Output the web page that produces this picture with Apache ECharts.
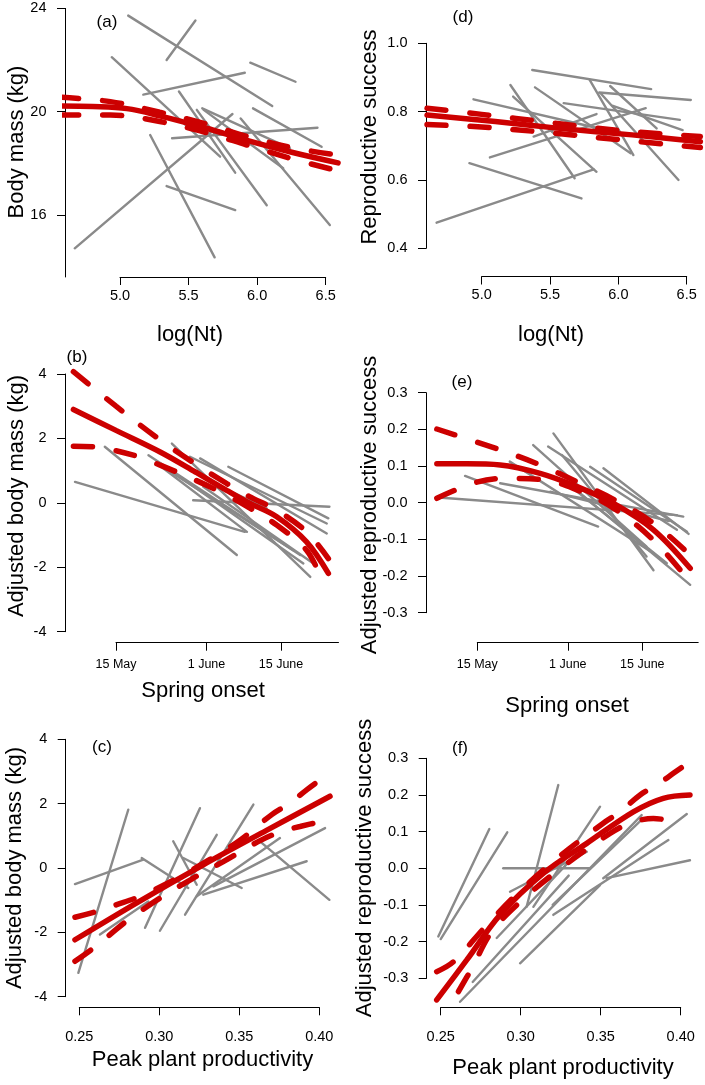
<!DOCTYPE html>
<html><head><meta charset="utf-8">
<script src="https://cdn.jsdelivr.net/npm/echarts@6/dist/echarts.min.js"></script>
<style>html,body{margin:0;padding:0;background:#fff}#c{width:705px;height:1085px}</style>
</head><body><div id="c"></div>
<script>
// ---------------- DATA ----------------
// tick values / labels
const logNtTicks = [5.0, 5.5, 6.0, 6.5];
const massTicks = [16, 20, 24];
const rsTicks = [0.4, 0.6, 0.8, 1.0];
const adjMassTicks = [-4, -2, 0, 2, 4];
const adjRsTicks = [-0.3, -0.2, -0.1, 0.0, 0.1, 0.2, 0.3];
const productivityTicks = [0.25, 0.30, 0.35, 0.40];
const onsetTicks = [135, 152, 166];          // day of year
const onsetTickLabels = ['15 May', '1 June', '15 June'];

// (a) body mass vs log(Nt): gray segments [x1,y1,x2,y2]
const grayA = [
  [5.06,23.72,6.11,20.22],[5.34,22.00,5.55,23.53],[5.95,21.90,6.28,21.16],[5.17,20.66,5.91,21.51],
  [4.94,22.11,5.73,18.26],[5.43,20.78,5.84,17.64],[5.22,19.10,5.69,14.36],[4.67,14.71,5.82,19.91],
  [5.34,17.12,5.84,16.19],[5.97,20.13,6.47,18.64],[5.88,19.74,6.53,15.61],[5.38,18.97,6.44,19.38],
  [5.60,20.13,6.24,18.58],[5.56,20.07,6.07,16.38],[5.61,20.07,6.19,17.81]
];
const fitA   = [[4.56,20.22],[4.80,20.20],[5.05,20.12],[5.29,19.84],[5.63,19.36],[5.92,18.90],[6.26,18.42],[6.59,18.02]];
const upperA = [[4.56,20.56],[4.93,20.39],[5.29,19.98],[5.63,19.52],[5.92,19.05],[6.26,18.60],[6.59,18.32]];
const lowerA = [[4.56,19.87],[4.93,19.87],[5.29,19.62],[5.63,19.19],[5.92,18.72],[6.26,18.17],[6.59,17.71]];

// (d) reproductive success vs log(Nt)
const grayD = [
  [5.37,0.922,6.24,0.866],[5.86,0.856,6.53,0.834],[5.94,0.875,6.28,0.751],[5.60,0.825,6.45,0.776],
  [5.96,0.817,6.47,0.746],[5.87,0.854,6.44,0.600],[5.79,0.893,6.11,0.673],[5.39,0.871,6.09,0.678],
  [5.21,0.878,5.68,0.605],[5.23,0.844,5.84,0.624],[4.94,0.836,5.90,0.747],[5.38,0.727,5.84,0.793],
  [5.06,0.666,6.20,0.810],[4.91,0.649,5.73,0.546],[4.67,0.475,5.82,0.631]
];
const fitD   = [[4.60,0.790],[5.10,0.771],[5.57,0.751],[6.10,0.732],[6.60,0.712]];
const upperD = [[4.60,0.810],[5.00,0.792],[5.50,0.768],[6.00,0.745],[6.60,0.727]];
const lowerD = [[4.60,0.762],[5.00,0.755],[5.50,0.738],[6.00,0.718],[6.60,0.695]];

// (b) adjusted body mass vs spring onset (day of year)
const grayB = [
  [127.3,0.65,159.2,-0.90],[132.9,1.74,157.7,-1.62],[141.1,1.48,169.6,-1.62],[145.5,1.84,171.5,-2.30],
  [143.3,1.17,168.3,-1.47],[148.9,1.43,174.6,-0.64],[150.8,1.38,174.6,-0.95],[156.1,1.12,174.9,-0.48],
  [149.5,0.08,175.1,-0.12],[147.0,0.81,170.2,-1.88],[151.4,0.50,172.1,-1.88],[142.7,1.22,159.6,-0.90],
  [152.7,0.65,163.3,-0.17]
];
const fitB   = [[127.0,2.90],[135.0,2.25],[143.3,1.58],[150.0,0.95],[155.8,0.39],[160.0,0.00],[165.2,-0.43],[170.8,-1.21],[174.9,-2.19]];
const upperB = [[127.0,4.07],[135.0,3.00],[143.3,1.95],[150.0,1.20],[155.8,0.60],[160.0,0.20],[165.2,-0.23],[170.8,-0.90],[174.9,-1.73]];
const lowerB = [[127.0,1.76],[131.8,1.72],[139.3,1.43],[143.3,1.17],[150.0,0.70],[155.8,0.24],[160.0,-0.15],[165.2,-0.69],[170.8,-1.47],[173.7,-2.40]];

// (e) adjusted reproductive success vs spring onset
const grayE = [
  [127.7,0.014,172.5,-0.034],[132.7,0.073,157.7,-0.065],[139.3,0.053,173.7,-0.038],[141.1,0.112,168.1,-0.138],
  [145.5,0.157,166.8,-0.120],[148.3,0.153,172.5,-0.074],[149.3,0.189,168.1,-0.184],[150.9,0.130,166.8,-0.147],
  [156.2,0.098,174.4,-0.079],[158.7,0.094,174.7,-0.085],[148.7,0.030,171.0,-0.050],[154.3,0.026,175.0,-0.224],
  [151.8,0.053,170.6,-0.165]
];
const fitE   = [[127.4,0.106],[133.0,0.106],[139.3,0.103],[146.8,0.080],[153.7,0.044],[160.6,-0.002],[168.1,-0.074],[175.0,-0.179]];
const upperE = [[127.4,0.201],[139.3,0.144],[146.8,0.103],[153.7,0.057],[160.6,0.009],[168.1,-0.056],[175.0,-0.143]];
const lowerE = [[127.4,0.012],[134.2,0.053],[139.3,0.066],[146.8,0.064],[153.7,0.035],[160.6,-0.015],[168.1,-0.102],[174.4,-0.206]];

// (c) adjusted body mass vs peak plant productivity
const grayC = [
  [0.2494,-3.26,0.2806,1.81],[0.2473,-0.50,0.2900,0.26],[0.2890,0.31,0.3181,-0.62],[0.2911,-1.86,0.3254,1.86],
  [0.3087,0.83,0.3234,-0.52],[0.3150,0.31,0.3515,-0.62],[0.3004,-1.95,0.3359,1.03],[0.3161,-1.45,0.3588,1.97],
  [0.3234,-0.88,0.3754,0.93],[0.3275,-0.83,0.3921,0.21],[0.3629,0.83,0.4063,-0.99],[0.3338,-0.57,0.4036,1.24],
  [0.2629,-2.07,0.2931,-1.04]
];
const fitC   = [[0.2473,-2.23],[0.2870,-1.05],[0.3275,0.10],[0.3670,1.17],[0.4067,2.23]];
const upperC = [[0.2473,-1.53],[0.2609,-1.35],[0.2734,-1.14],[0.2879,-0.88],[0.3100,-0.35],[0.3300,0.22],[0.3500,0.85],[0.3703,1.66],[0.3817,2.02],[0.3921,2.43],[0.4036,2.85]];
const lowerC = [[0.2473,-2.90],[0.2588,-2.49],[0.2692,-2.07],[0.2806,-1.61],[0.3000,-0.95],[0.3200,-0.35],[0.3400,0.20],[0.3630,0.85],[0.3765,1.14],[0.3879,1.29],[0.4036,1.47]];

// (f) adjusted reproductive success vs peak plant productivity
const grayF = [
  [0.2485,-0.186,0.2804,0.107],[0.2500,-0.193,0.2916,0.098],[0.2891,0.000,0.3433,0.000],[0.2621,-0.364,0.3756,0.145],
  [0.2996,-0.259,0.3496,-0.046],[0.3037,-0.105,0.3235,0.227],[0.3079,-0.105,0.3496,0.168],[0.2933,-0.064,0.3413,0.045],
  [0.3204,-0.127,0.3923,0.077],[0.3537,-0.027,0.4058,0.022],[0.3516,-0.027,0.4038,0.148],[0.2700,-0.310,0.3300,-0.020],
  [0.2850,-0.190,0.3350,0.040],[0.3200,-0.100,0.3750,0.130]
];
const fitF   = [[0.2475,-0.359],[0.2663,-0.250],[0.2871,-0.127],[0.3141,-0.014],[0.3413,0.068],[0.3704,0.154],[0.3891,0.191],[0.4058,0.200]];
const upperF = [[0.2475,-0.282],[0.2579,-0.255],[0.2788,-0.155],[0.3000,-0.060],[0.3250,0.035],[0.3516,0.123],[0.3621,0.154],[0.3746,0.200],[0.3850,0.227],[0.3954,0.259],[0.4058,0.291]];
const lowerF = [[0.2611,-0.336],[0.2694,-0.273],[0.2819,-0.173],[0.3000,-0.090],[0.3250,0.000],[0.3558,0.095],[0.3683,0.123],[0.3829,0.136],[0.3964,0.127]];

// ---------------- LAYOUT ----------------
const FONT = "'Liberation Sans', Arial, sans-serif";
const GRAY = '#8a8a8a', RED = '#cc0000';
const fmt1 = v => v.toFixed(1), fmt0 = v => String(Math.round(v)), fmt2 = v => v.toFixed(2);
const onsetFmt = v => onsetTickLabels[onsetTicks.indexOf(v)] || '';

const panels = [
  {tag:'(a)', gray:grayA, fit:fitA, up:upperA, lo:lowerA,
   xMap:[5.0,120.0,6.5,325.7], yMap:[20,111.7,16,215.0], xData:[4.6,6.6], yData:[13.6,24],
   xa:{y:277, min:5.0, max:6.5, ticks:logNtTicks, fmt:fmt1, margin:11, size:14.5},
   ya:{x:65, min:13.6, max:24, ticks:massTicks, fmt:fmt0},
   tagPos:[107,22], xTitle:['log(Nt)',190,335], yTitle:['Body mass (kg)',17,142]},
  {tag:'(d)', gray:grayD, fit:fitD, up:upperD, lo:lowerD,
   xMap:[5.0,481.7,6.5,686.7], yMap:[1.0,43.3,0.4,248.3], xData:[4.6,6.6], yData:[0.4,1.0],
   xa:{y:276.5, min:5.0, max:6.5, ticks:logNtTicks, fmt:fmt1, margin:11, size:14.5},
   ya:{x:426, min:0.4, max:1.0, ticks:rsTicks, fmt:fmt1},
   tagPos:[463,17], xTitle:['log(Nt)',551,335], yTitle:['Reproductive success',370,137]},
  {tag:'(b)', gray:grayB, fit:fitB, up:upperB, lo:lowerB,
   xMap:[135,116,166,281], yMap:[4,374,-4,631.7], xData:[126,177], yData:[-4,4],
   xa:{y:642.7, min:135, max:176.8, ticks:onsetTicks, fmt:onsetFmt, margin:15, size:12.5},
   ya:{x:65, min:-4, max:4, ticks:adjMassTicks, fmt:fmt0},
   tagPos:[77,357], xTitle:['Spring onset',203,691], yTitle:['Adjusted body mass (kg)',17,496]},
  {tag:'(e)', gray:grayE, fit:fitE, up:upperE, lo:lowerE,
   xMap:[135,477.3,166,642.3], yMap:[0.3,392.7,-0.3,612.7], xData:[126,177], yData:[-0.3,0.3],
   xa:{y:642.7, min:135, max:176.5, ticks:onsetTicks, fmt:onsetFmt, margin:15, size:12.5},
   ya:{x:426, min:-0.3, max:0.3, ticks:adjRsTicks, fmt:fmt1},
   tagPos:[462,382], xTitle:['Spring onset',567,706], yTitle:['Adjusted reproductive success',370,505]},
  {tag:'(c)', gray:grayC, fit:fitC, up:upperC, lo:lowerC,
   xMap:[0.25,79.3,0.40,319.3], yMap:[4,739.3,-4,996.7], xData:[0.245,0.41], yData:[-4,4],
   xa:{y:1007.3, min:0.25, max:0.40, ticks:productivityTicks, fmt:fmt2, margin:22, size:14.5},
   ya:{x:65.7, min:-4, max:4, ticks:adjMassTicks, fmt:fmt0},
   tagPos:[102,747], xTitle:['Peak plant productivity',202.5,1060], yTitle:['Adjusted body mass (kg)',15,868]},
  {tag:'(f)', gray:grayF, fit:fitF, up:upperF, lo:lowerF,
   xMap:[0.25,440.7,0.40,680.7], yMap:[0.3,758.3,-0.3,978.3], xData:[0.245,0.41], yData:[-0.3,0.3],
   xa:{y:1007.3, min:0.25, max:0.40, ticks:productivityTicks, fmt:fmt2, margin:22, size:14.5},
   ya:{x:426.7, min:-0.3, max:0.3, ticks:adjRsTicks, fmt:fmt1},
   tagPos:[460,748], xTitle:['Peak plant productivity',563,1068], yTitle:['Adjusted reproductive success',365,868]}
];

const lin = (m, v) => m[1] + (v - m[0]) * (m[3] - m[1]) / (m[2] - m[0]);

const grid = [], xAxis = [], yAxis = [], series = [], graphic = [];
const hidden = (min, max) => ({type:'value', min, max, show:false, splitLine:{show:false}});
const axisLine = {show:true, onZero:false, lineStyle:{color:'#000', width:1}};

panels.forEach(p => {
  // data grid
  const gi = grid.length;
  const L = lin(p.xMap, p.xData[0]), R = lin(p.xMap, p.xData[1]);
  const T = lin(p.yMap, p.yData[1]), B = lin(p.yMap, p.yData[0]);
  grid.push({left:L, top:T, width:R-L, height:B-T, containLabel:false, outerBoundsMode:'none'});
  xAxis.push(Object.assign(hidden(p.xData[0], p.xData[1]), {gridIndex:gi}));
  yAxis.push(Object.assign(hidden(p.yData[0], p.yData[1]), {gridIndex:gi}));

  // x-axis grid
  const gx = grid.length;
  const xl = lin(p.xMap, p.xa.min), xr = lin(p.xMap, p.xa.max);
  grid.push({left:xl, top:p.xa.y-10, width:xr-xl, height:10, containLabel:false, outerBoundsMode:'none'});
  xAxis.push({type:'value', gridIndex:gx, position:'bottom', min:p.xa.min, max:p.xa.max,
    axisLine, splitLine:{show:false},
    axisTick:{show:true, inside:false, length:8, customValues:p.xa.ticks, lineStyle:{color:'#000', width:1}},
    axisLabel:{show:true, customValues:p.xa.ticks, formatter:p.xa.fmt, margin:p.xa.margin,
      fontSize:p.xa.size, fontFamily:FONT, color:'#000', hideOverlap:false}});
  yAxis.push(Object.assign(hidden(0, 1), {gridIndex:gx}));

  // y-axis grid
  const gy = grid.length;
  const yt = lin(p.yMap, p.ya.max), yb = lin(p.yMap, p.ya.min);
  grid.push({left:p.ya.x, top:yt, width:10, height:yb-yt, containLabel:false, outerBoundsMode:'none'});
  xAxis.push(Object.assign(hidden(0, 1), {gridIndex:gy}));
  yAxis.push({type:'value', gridIndex:gy, position:'left', min:p.ya.min, max:p.ya.max,
    axisLine, splitLine:{show:false},
    axisTick:{show:true, inside:false, length:8, customValues:p.ya.ticks, lineStyle:{color:'#000', width:1}},
    axisLabel:{show:true, customValues:p.ya.ticks, formatter:p.ya.fmt, margin:18.5,
      fontSize:14.5, fontFamily:FONT, color:'#000', hideOverlap:false}});

  const base = {type:'line', xAxisIndex:gi, yAxisIndex:gi, showSymbol:false, symbol:'none',
    silent:true, animation:false, clip:false};
  p.gray.forEach(s => series.push(Object.assign({}, base, {
    data:[[s[0], s[1]], [s[2], s[3]]], z:2,
    lineStyle:{color:GRAY, width:2.4, cap:'round'}})));
  series.push(Object.assign({}, base, {data:p.up, smooth:0.35, z:3,
    lineStyle:{color:RED, width:5.5, type:[19,24], cap:'round'}}));
  series.push(Object.assign({}, base, {data:p.lo, smooth:0.35, z:3,
    lineStyle:{color:RED, width:5.5, type:[19,24], cap:'round'}}));
  series.push(Object.assign({}, base, {data:p.fit, smooth:0.35, z:4,
    lineStyle:{color:RED, width:5.5, cap:'round'}}));

  const txt = (text, x, y, size, rot) => ({type:'text', x, y, rotation:rot || 0, silent:true,
    style:{text, fontSize:size, fontFamily:FONT, fill:'#000',
      textAlign:'center', textVerticalAlign:'middle', align:'center', verticalAlign:'middle'}});
  graphic.push(txt(p.tag, p.tagPos[0], p.tagPos[1], 17));
  graphic.push(txt(p.xTitle[0], p.xTitle[1], p.xTitle[2], 22));
  graphic.push(txt(p.yTitle[0], p.yTitle[1], p.yTitle[2], 22, Math.PI/2));
});

const chart = echarts.init(document.getElementById('c'), null, {renderer:'canvas'});
chart.setOption({backgroundColor:'#fff', animation:false, grid, xAxis, yAxis, series, graphic});
</script></body></html>
